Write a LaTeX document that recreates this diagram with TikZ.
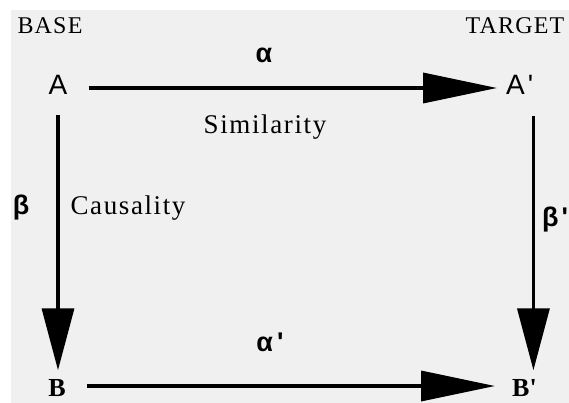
\documentclass[tikz,border=0pt]{standalone}
\usepackage{fontspec}
\setmainfont{Liberation Serif}
\newfontfamily\sansfont{Liberation Sans}
\newfontfamily\spacedfont[LetterSpace=6]{Liberation Serif}
\newfontfamily\capsfont[LetterSpace=5]{Liberation Serif}
\usetikzlibrary{arrows.meta}
\definecolor{panel}{HTML}{F0F0F0}
\newcommand{\tick}{\textquotesingle}
\tikzset{
  vertex/.style={inner sep=0pt, font=\sansfont\fontsize{28}{30}\selectfont},
  svertex/.style={inner sep=0pt, font=\bfseries\fontsize{26}{28}\selectfont},
  greek/.style={inner sep=0pt, font=\sansfont\bfseries\fontsize{27}{29}\selectfont},
  relation/.style={inner sep=0pt, font=\spacedfont\fontsize{27}{29}\selectfont},
  side/.style={inner sep=0pt, font=\capsfont\fontsize{24}{26}\selectfont},
  harrow/.style={line width=3.5pt, -{Triangle[length=74pt,width=30pt]}},
  varrow/.style={line width=3.5pt, -{Triangle[length=62pt,width=32pt]}}
}
\begin{document}
\begin{tikzpicture}[x=1pt,y=-1pt]
  \useasboundingbox (0,0) rectangle (569,403);
  \fill[panel] (11,10) rectangle (569,403);

  % headings
  \node[side] (base) at (50,26) {BASE};
  \node[side] (target) at (515,26) {TARGET};

  % the four terms
  \node[vertex] (A) at (58,85) {A};
  \node[vertex, anchor=west] (Ap) at (506,85) {A\hspace{3pt}\tick};
  \node[svertex] (B) at (57,388) {B};
  \node[svertex, anchor=west] (Bp) at (512,388) {B\tick};

  % relations
  \draw[harrow, shorten <=21pt, shorten >=9pt]
    ([yshift=-3pt]A.east) -- ([yshift=-3pt]Ap.west);
  \draw[harrow, shorten <=21pt, shorten >=17pt]
    ([yshift=2pt]B.east) -- ([yshift=2pt]Bp.west);
  \draw[varrow, shorten <=20pt, shorten >=9pt]
    (A.south) -- (A.south |- B.north);
  \draw[varrow, shorten <=21pt, shorten >=9pt]
    (Ap.south east) -- (Ap.south east |- Bp.north);

  % labels
  \node[greek] (alpha) at (264,55) {α};
  \node[relation] (sim) at (265,127) {Similarity};
  \node[greek] (beta) at (21,208) {β};
  \node[relation] (cause) at (128,208) {Causality};
  \node[greek] (betap) at (555,220) {β\hspace{3pt}\tick};
  \node[greek] (alphap) at (270,342) {α\hspace{4pt}\tick};
\end{tikzpicture}
\end{document}
